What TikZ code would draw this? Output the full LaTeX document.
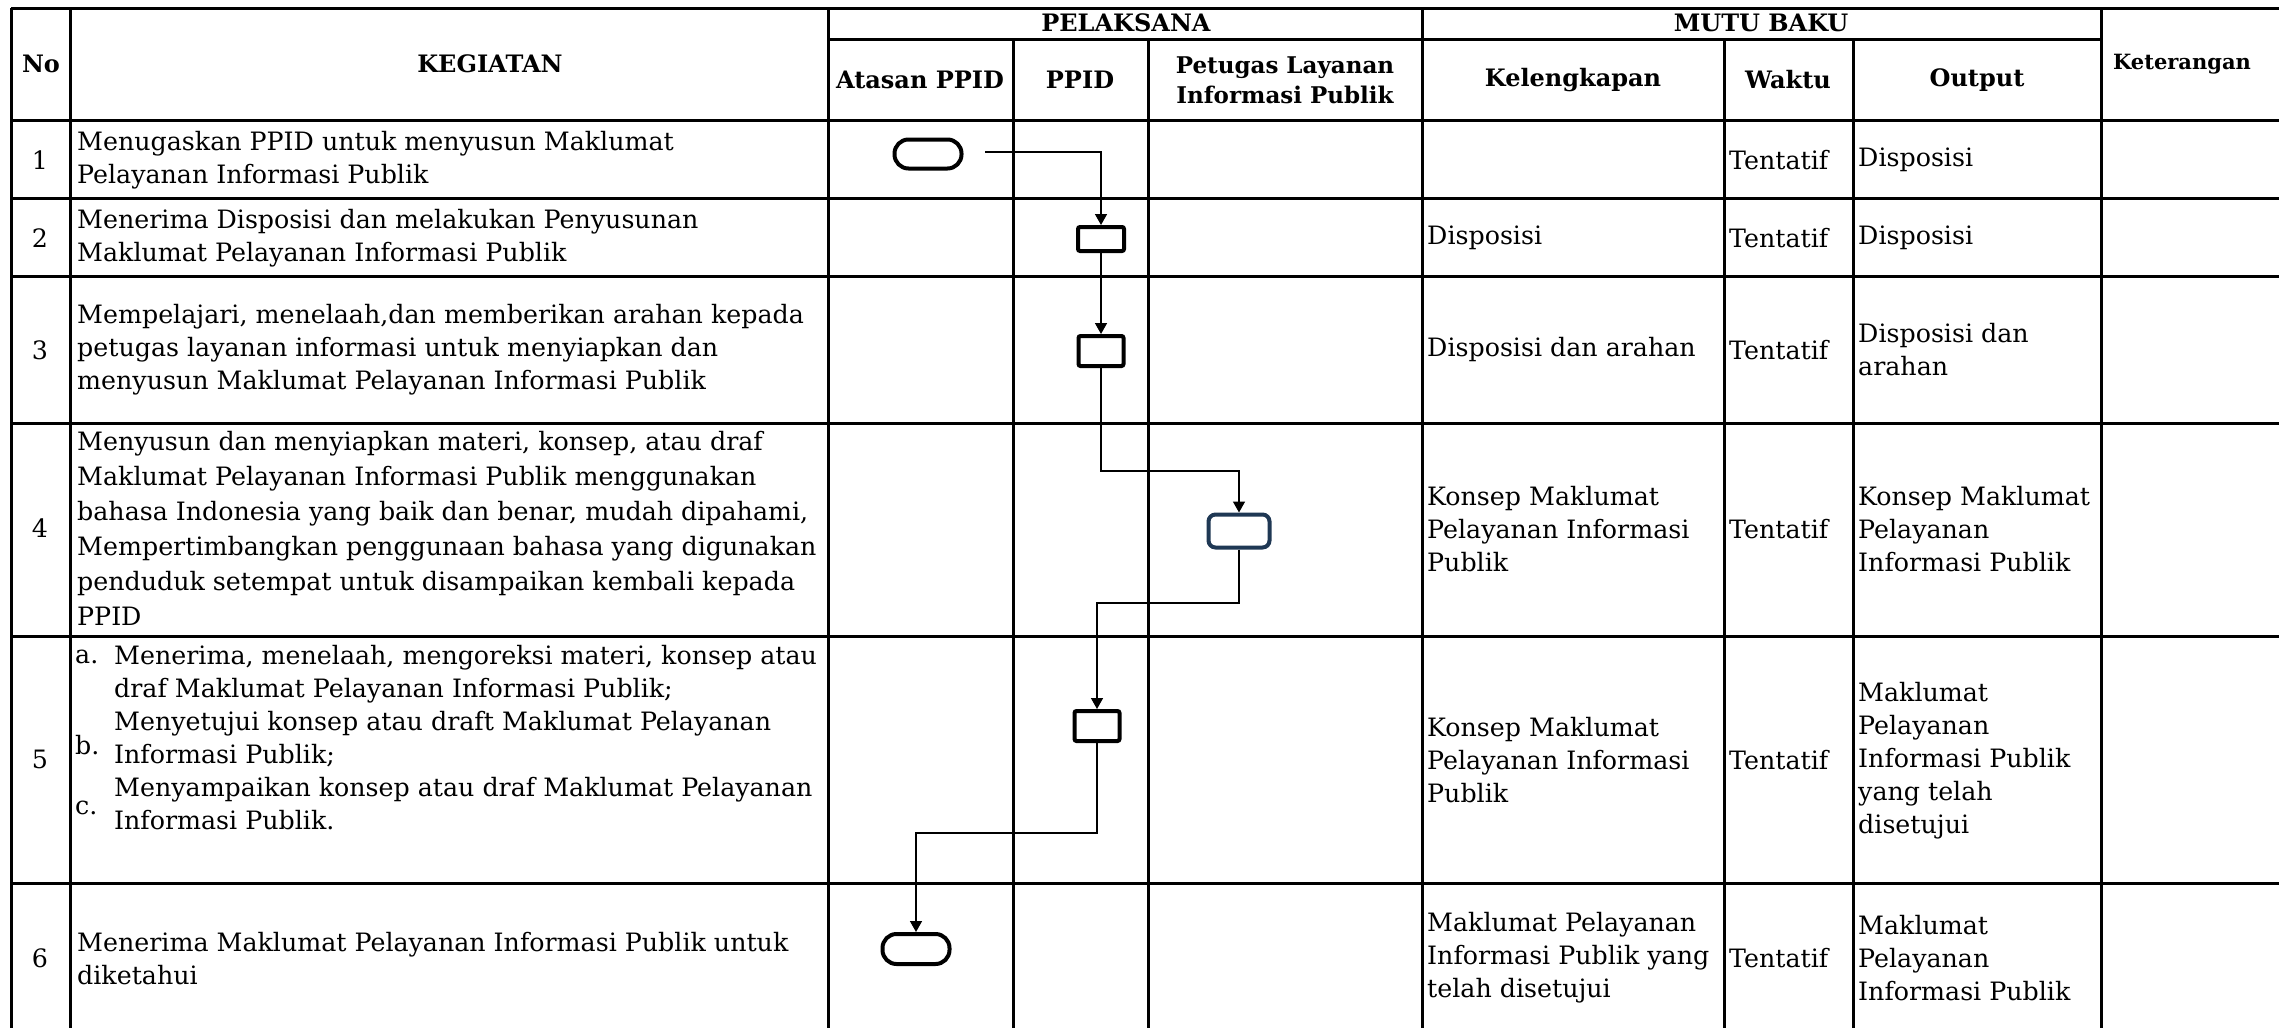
\documentclass[tikz,border=0pt]{standalone}
\usepackage{fontspec}
\setmainfont{DejaVu Serif}
\usetikzlibrary{arrows.meta,positioning,calc}

\definecolor{navy}{HTML}{1F3854}

\begin{document}
\begin{tikzpicture}[x=1pt,y=-1pt,
  grid/.style={line width=3pt},
  hd/.style={font=\fontsize{24}{30}\selectfont\bfseries,align=center,inner sep=0pt},
  txt/.style={font=\fontsize{25.3}{33}\selectfont,align=left,anchor=west,inner sep=0pt},
  num/.style={font=\fontsize{25.3}{33}\selectfont,inner sep=0pt},
  term/.style={draw,line width=4pt,rounded corners=14pt,minimum width=67pt,minimum height=29pt,inner sep=0pt},
  proc/.style={draw,line width=4pt,rounded corners=2pt,minimum width=45pt,minimum height=30pt,inner sep=0pt},
  flow/.style={line width=1.5pt,-{Triangle[width=12pt,length=11pt]}}]
  \useasboundingbox (0,0) rectangle (2279,1028);
  \fill[white] (0,0) rectangle (2279,1028);

  % Table grid
  \foreach \x in {11,70,828,1422,2101}
    \draw[grid] (\x,8) -- (\x,1028);
  \foreach \x in {1013,1148,1724,1853}
    \draw[grid] (\x,39) -- (\x,1028);
  \draw[grid] (11,8) -- (2279,8);
  \draw[grid] (828,39) -- (2101,39);
  \foreach \y in {120,198,276,423,636,883}
    \draw[grid] (11,\y) -- (2279,\y);

  % Header
  \node[hd] (hno)  at (41,64)   {No};
  \node[hd] (hkeg) at (490,64)  {KEGIATAN};
  \node[hd] (hpel) at (1126,23) {PELAKSANA};
  \node[hd] (hmut) at (1761,23) {MUTU BAKU};
  \node[hd] (hata) at (920,80)  {Atasan PPID};
  \node[hd] (hppid) at (1080,80) {PPID};
  \node[hd,font=\fontsize{23}{30}\selectfont\bfseries] (hpet) at (1285,80) {Petugas Layanan\\Informasi Publik};
  \node[hd] (hkel) at (1573,80) {Kelengkapan};
  \node[hd] (hwak) at (1788,80) {Waktu};
  \node[hd] (hout) at (1977,80) {Output};
  \node[hd,font=\fontsize{21}{26}\selectfont\bfseries] (hket) at (2182,64) {Keterangan};

  % Numbers
  \node[num] (n1) at (40,160) {1};
  \node[num] (n2) at (40,238) {2};
  \node[num] (n3) at (40,350) {3};
  \node[num] (n4) at (40,528) {4};
  \node[num] (n5) at (40,759) {5};
  \node[num] (n6) at (40,958) {6};

  % Kegiatan
  \node[txt] (k1) at (77,160) {Menugaskan PPID untuk menyusun Maklumat\\Pelayanan Informasi Publik};
  \node[txt] (k2) at (77,238) {Menerima Disposisi dan melakukan Penyusunan\\Maklumat Pelayanan Informasi Publik};
  \node[txt] (k3) at (77,350) {Mempelajari, menelaah,dan memberikan arahan kepada\\petugas layanan informasi untuk menyiapkan dan\\menyusun Maklumat Pelayanan Informasi Publik};
  \node[txt,font=\fontsize{25.3}{35}\selectfont] (k4) at (77,528) {Menyusun dan menyiapkan materi, konsep, atau draf\\Maklumat Pelayanan Informasi Publik menggunakan\\bahasa Indonesia yang baik dan benar, mudah dipahami,\\Mempertimbangkan penggunaan bahasa yang digunakan\\penduduk setempat untuk disampaikan kembali kepada\\PPID};
  \node[txt] (k5) at (114,738) {Menerima, menelaah, mengoreksi materi, konsep atau\\draf Maklumat Pelayanan Informasi Publik;\\Menyetujui konsep atau draft Maklumat Pelayanan\\Informasi Publik;\\Menyampaikan konsep atau draf Maklumat Pelayanan\\Informasi Publik.};
  \node[txt] (la) at (75,657) {a.};
  \node[txt] (lb) at (75,745) {b.};
  \node[txt] (lc) at (75,808) {c.};
  \node[txt] (k6) at (77,959) {Menerima Maklumat Pelayanan Informasi Publik untuk\\diketahui};

  % Mutu baku
  \node[txt] (w1) at (1729,160) {Tentatif};
  \node[txt] (o1) at (1858,160) {Disposisi};
  \node[txt] (m2) at (1427,238) {Disposisi};
  \node[txt] (w2) at (1729,238) {Tentatif};
  \node[txt] (o2) at (1858,238) {Disposisi};
  \node[txt] (m3) at (1427,350) {Disposisi dan arahan};
  \node[txt] (w3) at (1729,350) {Tentatif};
  \node[txt] (o3) at (1858,350) {Disposisi dan\\arahan};
  \node[txt] (m4) at (1427,529) {Konsep Maklumat\\Pelayanan Informasi\\Publik};
  \node[txt] (w4) at (1729,529) {Tentatif};
  \node[txt] (o4) at (1858,529) {Konsep Maklumat\\Pelayanan\\Informasi Publik};
  \node[txt] (m5) at (1427,760) {Konsep Maklumat\\Pelayanan Informasi\\Publik};
  \node[txt] (w5) at (1729,760) {Tentatif};
  \node[txt] (o5) at (1858,761) {Maklumat\\Pelayanan\\Informasi Publik\\yang telah\\disetujui};
  \node[txt] (m6) at (1427,958) {Maklumat Pelayanan\\Informasi Publik yang\\telah disetujui};
  \node[txt] (w6) at (1729,958) {Tentatif};
  \node[txt] (o6) at (1858,958) {Maklumat\\Pelayanan\\Informasi Publik};

  % Flow shapes
  \node[term] (t1) at (928,154) {};
  \node[proc,minimum height=24pt,minimum width=46pt] (b2) at (1101,239) {};
  \node[proc] (b3) at (1101,351) {};
  \node[proc,draw=navy,rounded corners=7pt,minimum width=61pt,minimum height=33pt] (pl) at (1239,531) {};
  \node[proc] (b5) at (1097,726) {};
  \node[term,minimum height=30pt] (t6) at (916,949) {};

  % Connectors
  \coordinate (c1) at (985,152);
  \coordinate (c3) at (1101,471);
  \coordinate (c4) at (1239,603);
  \coordinate (c5) at (1097,833);
  \draw[flow] (c1) -| (b2.north);
  \draw[flow] (b2.south) -- (b3.north);
  \draw[flow] (b3.south) -- (c3) -| (pl.north);
  \draw[flow] (pl.south) -- (c4) -| (b5.north);
  \draw[flow] (b5.south) -- (c5) -| (t6.north);
\end{tikzpicture}
\end{document}
